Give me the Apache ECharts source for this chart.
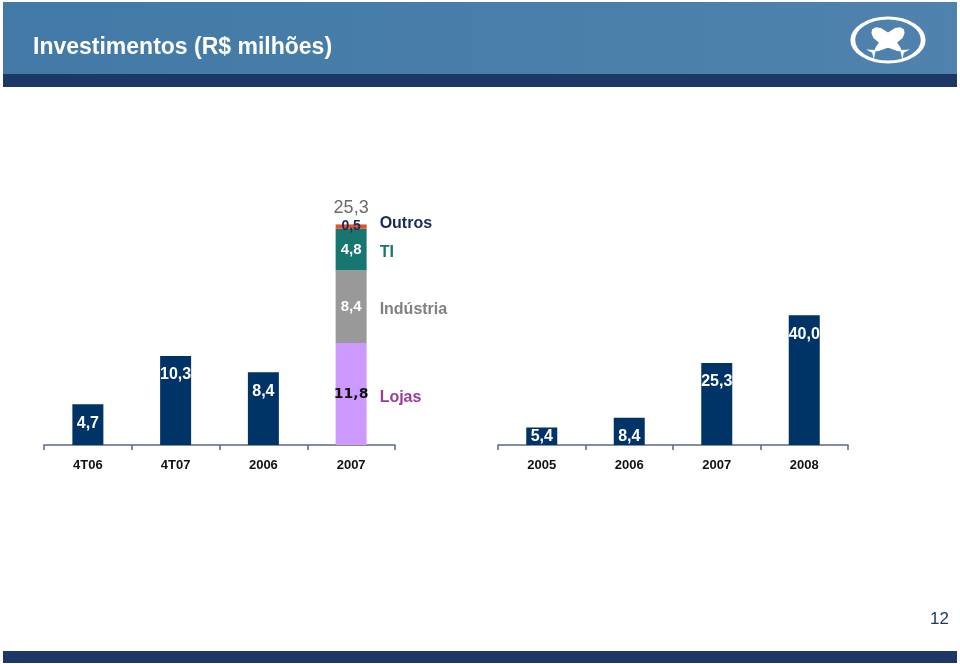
<!DOCTYPE html>
<html>
<head>
<meta charset="utf-8">
<script src="https://cdn.jsdelivr.net/npm/echarts@6/dist/echarts.min.js"></script>
<style>
html,body{margin:0;padding:0;background:#fff;}
#chart{width:960px;height:664px;}
</style>
</head>
<body>
<div id="chart"></div>
<script>
// ---- data ----
const catsLeft = ['4T06', '4T07', '2006', '2007'];
const valsLeft = [4.7, 10.3, 8.4, 25.3];          // 2007 = total of stacked segments
const segNames = ['Lojas', 'Indústria', 'TI', 'Outros'];
const segVals = [11.8, 8.4, 4.8, 0.5];              // 2007 breakdown
const catsRight = ['2005', '2006', '2007', '2008'];
const valsRight = [5.4, 8.4, 25.3, 40.0];

// ---- styles ----
const NAVY = '#003366';
const segColors = ['#cc99ff', '#999999', '#17766f', '#e0532b'];
const segLabelColors = ['#111111', '#ffffff', '#ffffff', '#1a2a5c'];
const segLabelFonts = [
  {fontFamily: 'DejaVu Sans', fontWeight: 'bold', fontSize: 14},
  {fontFamily: 'Liberation Sans, Arial', fontWeight: 'bold', fontSize: 15},
  {fontFamily: 'Liberation Sans, Arial', fontWeight: 'bold', fontSize: 15},
  {fontFamily: 'Liberation Sans, Arial', fontWeight: 'bold', fontSize: 14}
];
const nameColors = ['#9b3c9b', '#808080', '#17766f', '#1a2a5c'];
const nameOffsets = [[0, 4], [0, 3], [0, 3], [0, -3]];
const FONT = 'Liberation Sans, Arial, sans-serif';
const fmt = v => v.toFixed(1).replace('.', ',');

const n = catsLeft.length;
const last = n - 1;

const series = [];
series.push({
  type: 'bar', xAxisIndex: 0, yAxisIndex: 0, barWidth: 31, barGap: '-100%',
  itemStyle: {color: NAVY},
  label: {show: true, position: 'insideTop', distance: 11, color: '#fff',
    fontFamily: FONT, fontWeight: 'bold', fontSize: 16, formatter: p => fmt(p.value)},
  data: valsLeft.map((v, i) => i === last ? {
    value: v, itemStyle: {color: 'rgba(0,0,0,0)'},
    label: {position: 'top', distance: 9, color: '#6b6b6b', fontWeight: 'normal', fontSize: 18}
  } : v),
  z: 1
});
segNames.forEach((nm, k) => {
  series.push({
    name: nm, type: 'bar', xAxisIndex: 0, yAxisIndex: 0, stack: 'seg', barWidth: 31, barGap: '-100%',
    itemStyle: {color: segColors[k]},
    label: Object.assign({show: true, position: 'inside', color: segLabelColors[k],
      formatter: p => fmt(p.value)}, segLabelFonts[k]),
    data: catsLeft.map((c, i) => i === last ? segVals[k] : '-'),
    z: 2
  });
});
segNames.forEach((nm, k) => {
  series.push({
    name: nm + ' ', type: 'bar', xAxisIndex: 1, yAxisIndex: 0, stack: 'names', barWidth: 31,
    itemStyle: {color: 'rgba(0,0,0,0)'}, silent: true,
    label: {show: true, position: 'right', distance: 13, color: nameColors[k],
      fontFamily: FONT, fontWeight: 'bold', fontSize: 16, offset: nameOffsets[k],
      formatter: () => nm},
    data: catsLeft.map((c, i) => i === last ? segVals[k] : '-'),
    z: 3
  });
});
series.push({
  type: 'bar', xAxisIndex: 2, yAxisIndex: 1, barWidth: 31,
  itemStyle: {color: NAVY},
  label: {show: true, position: 'insideTop', distance: 11, color: '#fff',
    fontFamily: FONT, fontWeight: 'bold', fontSize: 16, formatter: p => fmt(p.value)},
  data: valsRight.map((v, i) => i === 0 ? {value: v, label: {position: 'insideBottom', distance: 0}} : v)
});

const catAxis = (grid, data, show) => ({
  type: 'category', gridIndex: grid, data: data, show: show,
  axisLine: {show: true, lineStyle: {color: '#5a6788', width: 1.5}},
  axisTick: {show: true, length: 5, lineStyle: {color: '#5a6788', width: 1.5}},
  axisLabel: {color: '#111', fontFamily: FONT, fontWeight: 'bold', fontSize: 13, margin: 14}
});

const fishPts = [[22,0],[20,-4],[15,-7],[6,-7.5],[-4,-6],[-14,-3],[-18,-1],[-25,-7],[-22,0],[-25,7],[-18,1],[-14,3],[-4,6],[6,7.5],[15,7],[20,4]];

const option = {
  animation: false,
  backgroundColor: '#ffffff',
  title: {
    text: 'Investimentos (R$ milhões)', left: 28, top: 31,
    textStyle: {color: '#ffffff', fontFamily: FONT, fontWeight: 'bold', fontSize: 23}
  },
  grid: [
    {left: 44, right: 565, top: 185.5, bottom: 219},
    {left: 498, right: 112, top: 185.5, bottom: 219}
  ],
  xAxis: [
    catAxis(0, catsLeft, true),
    Object.assign(catAxis(0, catsLeft, false), {show: false}),
    catAxis(1, catsRight, true)
  ],
  yAxis: [
    {type: 'value', gridIndex: 0, min: 0, max: 30, show: false},
    {type: 'value', gridIndex: 1, min: 0, max: 80, show: false}
  ],
  series: series,
  graphic: [
    {type: 'rect', z: -10, shape: {x: 3, y: 2, width: 954, height: 72},
      style: {fill: new echarts.graphic.LinearGradient(0, 0, 1, 0, [
        {offset: 0, color: '#4279a6'}, {offset: 1, color: '#4f83ad'}])}},
    {type: 'rect', z: -10, shape: {x: 3, y: 74, width: 954, height: 13}, style: {fill: '#1d3767'}},
    {type: 'rect', z: -10, shape: {x: 3, y: 651, width: 954, height: 12}, style: {fill: '#1d3767'}},
    {type: 'text', left: 930, top: 611, style: {text: '12', fill: '#1d3767', font: '17px ' + FONT}},
    {type: 'circle', x: 888, y: 40, scaleX: 1.6, scaleY: 1,
      shape: {cx: 0, cy: 0, r: 22}, style: {fill: 'none', stroke: '#ffffff', lineWidth: 3, strokeNoScale: true}},
    {type: 'polygon', x: 888, y: 41, rotation: 0.64, scaleX: 0.9, scaleY: 0.9,
      shape: {points: fishPts}, style: {fill: '#ffffff'}},
    {type: 'polygon', x: 888, y: 41, rotation: Math.PI - 0.64, scaleX: 0.9, scaleY: 0.9,
      shape: {points: fishPts}, style: {fill: '#ffffff'}}
  ]
};

const chart = echarts.init(document.getElementById('chart'), null, {renderer: 'canvas'});
chart.setOption(option);
</script>
</body>
</html>
